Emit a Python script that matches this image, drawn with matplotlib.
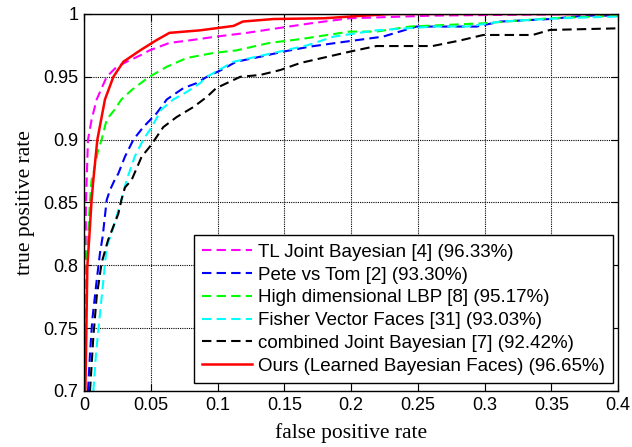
import numpy as np
import matplotlib
matplotlib.use('Agg')
import matplotlib.pyplot as plt

# ROC curves (fpr, tpr)
tl_fpr = [0.0005, 0.001, 0.0015, 0.003, 0.0057, 0.0095, 0.017, 0.0245, 0.032, 0.042, 0.049, 0.064,
          0.079, 0.099, 0.122, 0.147, 0.17, 0.199, 0.261, 0.33, 0.4]
tl_tpr = [0.70, 0.78, 0.852, 0.90, 0.916, 0.932, 0.95, 0.958, 0.962, 0.967, 0.971, 0.977,
          0.979, 0.982, 0.985, 0.989, 0.9926, 0.9966, 0.9987, 0.9995, 1.0]

pete_fpr = [0.003, 0.0045, 0.0062, 0.0095, 0.012, 0.014, 0.017, 0.0195, 0.023, 0.0257, 0.0307, 0.037,
            0.0444, 0.0544, 0.062, 0.0744, 0.0844, 0.092, 0.102, 0.114, 0.132, 0.149, 0.169, 0.189,
            0.224, 0.249, 0.294, 0.312, 0.349, 0.375, 0.4]
pete_tpr = [0.70, 0.73, 0.7565, 0.788, 0.81, 0.823, 0.852, 0.86, 0.868, 0.873, 0.8865, 0.90,
            0.910, 0.921, 0.932, 0.941, 0.945, 0.95, 0.955, 0.962, 0.966, 0.970, 0.974, 0.977,
            0.982, 0.990, 0.990, 0.994, 0.996, 0.9987, 0.9987]

lbp_fpr = [0.0004, 0.001, 0.003, 0.0045, 0.0057, 0.007, 0.0107, 0.0132, 0.017, 0.023, 0.028, 0.0357,
           0.0457, 0.049, 0.062, 0.077, 0.097, 0.114, 0.139, 0.162, 0.199, 0.219, 0.244, 0.299,
           0.349, 0.4]
lbp_tpr = [0.70, 0.78, 0.823, 0.852, 0.868, 0.873, 0.892, 0.90, 0.916, 0.924, 0.932, 0.9395,
           0.9475, 0.95, 0.958, 0.965, 0.969, 0.971, 0.977, 0.98, 0.986, 0.986, 0.990, 0.9926,
           0.9966, 0.9987]

fv_fpr = [0.007, 0.009, 0.0115, 0.0145, 0.017, 0.0207, 0.028, 0.032, 0.038, 0.0444, 0.0507, 0.058,
          0.0669, 0.077, 0.087, 0.092, 0.112, 0.142, 0.167, 0.187, 0.219, 0.262, 0.287, 0.312,
          0.357, 0.4]
fv_tpr = [0.70, 0.73, 0.7565, 0.788, 0.815, 0.8255, 0.852, 0.868, 0.8865, 0.90, 0.910, 0.924,
          0.932, 0.938, 0.945, 0.95, 0.962, 0.969, 0.975, 0.982, 0.987, 0.990, 0.990, 0.994,
          0.9966, 0.998]

cjb_fpr = [0.0045, 0.007, 0.0095, 0.0132, 0.018, 0.0257, 0.028, 0.0307, 0.0357, 0.0432, 0.049, 0.053,
           0.0594, 0.0694, 0.082, 0.092, 0.099, 0.109, 0.117, 0.132, 0.147, 0.162, 0.199, 0.219,
           0.261, 0.282, 0.299, 0.336, 0.349, 0.4]
cjb_tpr = [0.70, 0.743, 0.775, 0.802, 0.82, 0.841, 0.852, 0.862, 0.868, 0.8865, 0.894, 0.90,
           0.910, 0.918, 0.926, 0.934, 0.941, 0.946, 0.95, 0.9515, 0.9554, 0.961, 0.970, 0.9745,
           0.9745, 0.979, 0.9833, 0.9833, 0.9873, 0.9886]

ours_fpr = [0.001, 0.0015, 0.0025, 0.004, 0.0057, 0.007, 0.010, 0.0157, 0.022, 0.0295, 0.042, 0.054,
            0.064, 0.087, 0.112, 0.119, 0.142, 0.18, 0.21, 0.23, 0.4]
ours_tpr = [0.70, 0.73, 0.799, 0.823, 0.852, 0.868, 0.90, 0.932, 0.95, 0.962, 0.971, 0.979,
            0.985, 0.987, 0.9905, 0.994, 0.996, 0.9966, 0.9987, 1.0, 1.0]

labels = ['TL Joint Bayesian [4] (96.33%)',
          'Pete vs Tom [2] (93.30%)',
          'High dimensional LBP [8] (95.17%)',
          'Fisher Vector Faces [31] (93.03%)',
          'combined Joint Bayesian [7] (92.42%)',
          'Ours (Learned Bayesian Faces) (96.65%)']

sans = 'Liberation Sans'
serif = 'Liberation Serif'

fig = plt.figure(figsize=(6.32, 4.47), dpi=100)
ax = fig.add_axes([0.1329, 0.1253, 0.978 - 0.1329, 0.9687 - 0.1253])

dash = (4.5, 2.5)
ax.plot(tl_fpr, tl_tpr, color='#ff00ff', lw=1.5, dashes=dash, label=labels[0])
ax.plot(pete_fpr, pete_tpr, color='#0000ff', lw=1.5, dashes=dash, label=labels[1])
ax.plot(lbp_fpr, lbp_tpr, color='#00ff00', lw=1.5, dashes=dash, label=labels[2])
ax.plot(fv_fpr, fv_tpr, color='#00ffff', lw=1.5, dashes=dash, label=labels[3])
ax.plot(cjb_fpr, cjb_tpr, color='black', lw=1.5, dashes=dash, label=labels[4])
ax.plot(ours_fpr, ours_tpr, color='#ff0000', lw=1.8, label=labels[5])

ax.set_xlim(0, 0.4)
ax.set_ylim(0.7, 1.0)
ax.set_xticks(np.arange(0, 0.401, 0.05))
ax.set_yticks(np.arange(0.7, 1.001, 0.05))
ax.set_xticklabels(['0', '0.05', '0.1', '0.15', '0.2', '0.25', '0.3', '0.35', '0.4'])
ax.set_yticklabels(['0.7', '0.75', '0.8', '0.85', '0.9', '0.95', '1'])
ax.grid(True, color='black', linestyle=(0, (1, 1)), lw=0.8)
ax.tick_params(direction='in', top=True, right=True, length=5, labelsize=13, pad=4)
for lab in ax.get_xticklabels() + ax.get_yticklabels():
    lab.set_family(sans)
for s in ax.spines.values():
    s.set_linewidth(1.0)

ax.set_xlabel('false positive rate', family=serif, fontsize=15.5, labelpad=7)
ax.set_ylabel('true positive rate', family=serif, fontsize=15.5, labelpad=6)

leg = ax.legend(loc='lower right', bbox_to_anchor=(0.991, 0.021), borderaxespad=0,
                prop={'family': sans, 'size': 13.5}, fancybox=False, framealpha=1,
                edgecolor='black', handlelength=2.67, handletextpad=0.3, labelspacing=0.3,
                borderpad=0.45)
leg.get_frame().set_linewidth(1.0)

fig.savefig('out.png', dpi=100)
